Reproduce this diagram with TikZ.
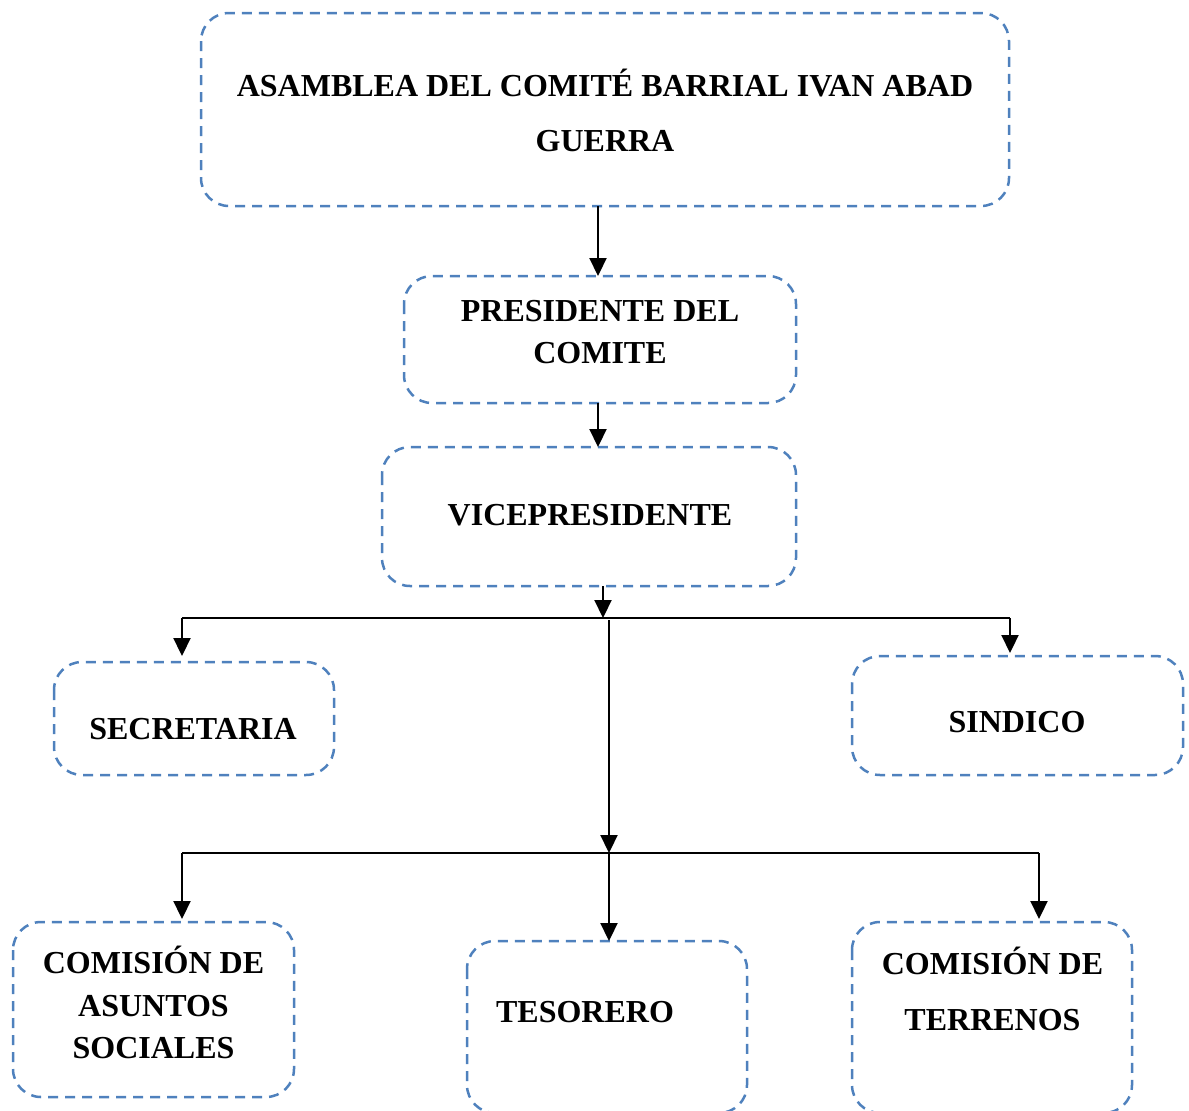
\documentclass[tikz,border=0pt]{standalone}
\usepackage{fontspec}
\setmainfont{Liberation Serif}
\usetikzlibrary{arrows.meta,calc}
\definecolor{boxblue}{RGB}{79,129,189}
\begin{document}
\begin{tikzpicture}[x=1pt,y=-1pt,
  dbox/.style={draw=boxblue,line width=2.5pt,dash pattern=on 10pt off 7pt,rounded corners=28pt,inner sep=0pt},
  lbl/.style={font=\bfseries\fontsize{32}{43}\selectfont,align=center,inner sep=0pt,text=black},
  conn/.style={line width=2.2pt,black},
  arr/.style={conn,-{Triangle[length=18pt,width=17pt]}},
]
\useasboundingbox (0,0) rectangle (1189,1111);
% boxes
\draw[dbox] (201,13) rectangle (1009,206);
\coordinate (asamS) at (598,206);
\draw[dbox] (404,276) rectangle (796,403);
\coordinate (presN) at (598,276);
\coordinate (presS) at (598,403);
\draw[dbox] (382,447) rectangle (796,586);
\coordinate (viceN) at (598,447);
\coordinate (viceS) at (603,586);
\draw[dbox] (54,662) rectangle (334,775);
\coordinate (secN) at (182,662);
\draw[dbox] (852,656) rectangle (1183,775);
\coordinate (sinN) at (1010,656);
\draw[dbox] (13,922) rectangle (294,1097);
\coordinate (casN) at (182,922);
\draw[dbox] (467,941) rectangle (747,1113);
\coordinate (tesN) at (609,941);
\draw[dbox] (852,922) rectangle (1132,1113);
\coordinate (terN) at (1039,922);
% texts
\node[lbl,font=\bfseries\fontsize{32}{55}\selectfont] (tasam) at (605,110.5) {ASAMBLEA DEL COMITÉ BARRIAL IVAN ABAD\\GUERRA};
\node[lbl,font=\bfseries\fontsize{32}{42}\selectfont] (tpres) at (600,332) {PRESIDENTE DEL\\COMITE};
\node[lbl] (tvice) at (590,515) {VICEPRESIDENTE};
\node[lbl] (tsec) at (193,729) {SECRETARIA};
\node[lbl] (tsin) at (1017,722) {SINDICO};
\node[lbl,font=\bfseries\fontsize{32}{42.5}\selectfont] (tcas) at (153.5,1002.5) {COMISIÓN DE\\ASUNTOS\\SOCIALES};
\node[lbl] (ttes) at (585,1012) {TESORERO};
\node[lbl,font=\bfseries\fontsize{32}{56}\selectfont] (tter) at (992.5,989) {COMISIÓN DE\\TERRENOS};
% junctions
\coordinate (j1) at (603,618);
\coordinate (j1l) at (182,618);
\coordinate (j1r) at (1010,618);
\coordinate (j2s) at (609,620);
\coordinate (j2) at (609,853);
\coordinate (j2l) at (182,853);
\coordinate (j2r) at (1039,853);
% connectors
\draw[arr] (asamS) -- (presN);
\draw[arr] (presS) -- (viceN);
\draw[arr] (viceS) -- (j1);
\draw[conn] (j1l) -- (j1r);
\draw[arr] (j1l) -- ($(secN)+(0,-6)$);
\draw[arr] (j1r) -- ($(sinN)+(0,-3)$);
\draw[arr] (j2s) -- (j2);
\draw[conn] (j2l) -- (j2r);
\draw[arr] (j2l) -- ($(casN)+(0,-3)$);
\draw[arr] (j2) -- (tesN);
\draw[arr] (j2r) -- ($(terN)+(0,-3)$);
\end{tikzpicture}
\end{document}
